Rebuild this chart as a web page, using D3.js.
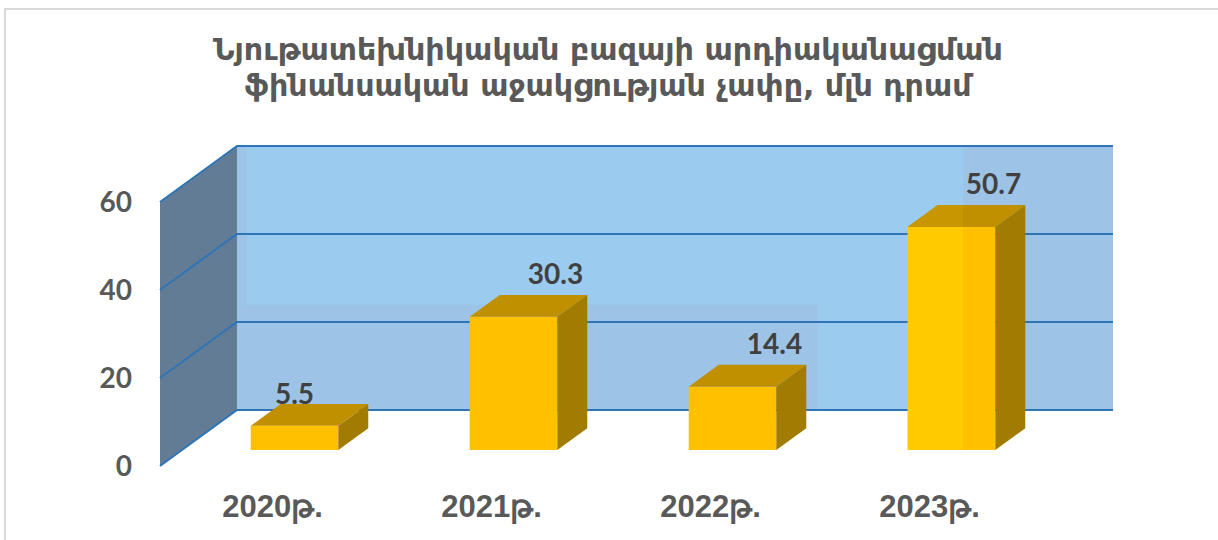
<!DOCTYPE html>
<html><head><meta charset="utf-8">
<script src="https://cdn.jsdelivr.net/npm/d3@7"></script>
<style>html,body{margin:0;padding:0;background:#fff;}svg{display:block;}</style>
</head><body>
<svg id="chart" width="1218" height="540"></svg>
<script>
const titleLines = ["Նյութատեխնիկական բազայի արդիականացման", "ֆինանսական աջակցության չափը, մլն դրամ"];
const categories = ["2020թ.", "2021թ.", "2022թ.", "2023թ."];
const values = [5.5, 30.3, 14.4, 50.7];
const valueLabels = ["5.5", "30.3", "14.4", "50.7"];
const yTicks = [0, 20, 40, 60];

const svg = d3.select("#chart");
const W = 1218, H = 540;

// chart area border
svg.append("rect").attr("x", 5).attr("y", 9).attr("width", 1400).attr("height", 700)
  .attr("fill", "#fff").attr("stroke", "#d9d9d9").attr("stroke-width", 2);

// title
svg.append("g").selectAll("text").data(titleLines).join("text")
  .attr("x", 608).attr("y", (d, i) => 60 + i * 36)
  .attr("text-anchor", "middle")
  .attr("font-family", "'DejaVu Sans', sans-serif").attr("font-weight", "bold")
  .attr("font-size", 31).attr("fill", "#595959")
  .attr("textLength", (d, i) => i === 0 ? 790 : 727)
  .attr("lengthAdjust", "spacingAndGlyphs")
  .text(d => d);

// projection
const depthX = 77, depthY = -56;
const x = d3.scaleBand().domain(categories).range([163, 1039]).paddingInner(0.6).paddingOuter(0.3);
const y = d3.scaleLinear().domain([0, 60]).range([466, 202]);
const front = [160, 1036];
const proj = (px, v, d) => [px + depthX * d, y(v) + depthY * d];

// back wall
const bx0 = proj(front[0], 0, 1)[0], bx1 = proj(front[1], 0, 1)[0];
const byTop = proj(0, 60, 1)[1], byBot = proj(0, 0, 1)[1];
svg.append("rect").attr("x", bx0).attr("y", byTop).attr("width", bx1 - bx0).attr("height", byBot - byTop)
  .attr("fill", "#9dc3e6");
// lighter rendering zone on back wall
const lzSplit = 963, lzInner = 818, lzY = proj(0, 23.9, 1)[1];
svg.append("path").attr("fill", "#9bcbee")
  .attr("d", `M${bx0 + 10},${byTop}L${lzSplit},${byTop}L${lzSplit},${byBot}L${lzInner},${byBot}L${lzInner},${lzY}L${bx0 + 10},${lzY}Z`);

// side wall
const sideWall = [proj(front[0], 0, 0), proj(front[0], 60, 0), proj(front[0], 60, 1), proj(front[0], 0, 1)];
svg.append("path").attr("d", "M" + sideWall.join("L") + "Z").attr("fill", "#637c96");

// gridlines
const grid = svg.append("g");
yTicks.forEach(t => {
  const a = proj(front[0], t, 0), b = proj(front[0], t, 1), c = proj(front[1], t, 1);
  grid.append("path").attr("d", `M${a}L${b}L${c}`)
    .attr("fill", "none").attr("stroke", "#2e75b6").attr("stroke-width", 2);
});

// y tick labels
svg.append("g").selectAll("text").data(yTicks).join("text")
  .attr("x", 132).attr("y", d => y(d)).attr("dy", "0.36em")
  .attr("text-anchor", "end")
  .attr("font-family", "Lato, sans-serif").attr("font-weight", "bold")
  .attr("font-size", 28).attr("fill", "#595959")
  .text(d => d);

// bars
const d1 = 0.2857, d2 = 0.675;
const bw = x.bandwidth();
const bars = svg.append("g");
svg.append("defs").append("clipPath").attr("id", "lz")
  .append("rect").attr("x", lzInner).attr("y", 0).attr("width", lzSplit - lzInner).attr("height", H);

categories.forEach((c, i) => {
  const v = values[i];
  const fl = proj(x(c), v, d1), fr = proj(x(c) + bw, v, d1);
  const bl = proj(x(c), v, d2), br = proj(x(c) + bw, v, d2);
  const fr0 = proj(x(c) + bw, 0, d1), br0 = proj(x(c) + bw, 0, d2);
  const fl0 = proj(x(c), 0, d1);
  const faces = (gg, cf, ct, cs) => {
    gg.append("path").attr("d", `M${fl}L${fr}L${fr0}L${fl0}Z`).attr("fill", cf);
    gg.append("path").attr("d", `M${fl}L${bl}L${br}L${fr}Z`).attr("fill", ct);
    gg.append("path").attr("d", `M${fr}L${br}L${br0}L${fr0}Z`).attr("fill", cs);
  };
  faces(bars.append("g"), "#ffc000", "#c09000", "#a27c00");
  faces(bars.append("g").attr("clip-path", "url(#lz)"), "#ffca00", "#c89700", "#a27c00");
});

// value labels
svg.append("g").selectAll("text").data(values).join("text")
  .attr("x", (v, i) => v < 10 ? x(categories[i]) + bw / 2 + depthX * d1 : x(categories[i]) + bw / 2 + depthX * d2 + 12)
  .attr("y", (v, i) => v < 10 ? proj(0, v, d2)[1] : proj(0, v, d2)[1] - 11)
  .attr("text-anchor", "middle")
  .attr("font-family", "Lato, sans-serif").attr("font-weight", "bold")
  .attr("font-size", 28).attr("fill", "#404040")
  .text((v, i) => valueLabels[i]);

// category labels
svg.append("g").selectAll("text").data(categories).join("text")
  .attr("x", d => x(d) + bw / 2).attr("y", 517)
  .attr("text-anchor", "middle")
  .attr("font-family", "'Liberation Sans', Arial, sans-serif").attr("font-weight", "bold")
  .attr("font-size", 31).attr("fill", "#595959")
  .text(d => d);
</script>
</body></html>
